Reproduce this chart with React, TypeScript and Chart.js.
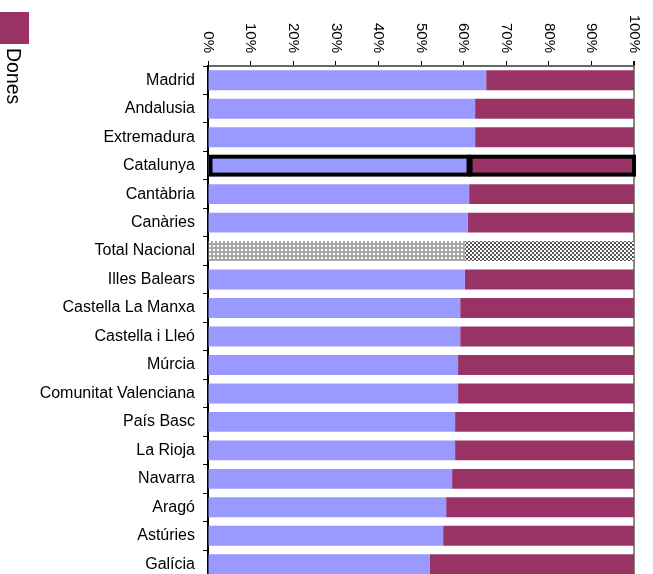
import React, { useEffect, useRef } from 'react';
import { Chart, registerables } from 'chart.js';

Chart.register(...registerables);

const categories = [
  'Madrid', 'Andalusia', 'Extremadura', 'Catalunya', 'Cantàbria', 'Canàries',
  'Total Nacional', 'Illes Balears', 'Castella La Manxa', 'Castella i Lleó',
  'Múrcia', 'Comunitat Valenciana', 'País Basc', 'La Rioja', 'Navarra',
  'Aragó', 'Astúries', 'Galícia',
];
const homes = [65.3, 62.7, 62.7, 61.4, 61.3, 61.0, 60.3, 60.3, 59.2, 59.2, 58.7, 58.7, 58.0, 58.0, 57.3, 55.9, 55.2, 52.1];
const dones = [34.7, 37.3, 37.3, 38.6, 38.7, 39.0, 39.7, 39.7, 40.8, 40.8, 41.3, 41.3, 42.0, 42.0, 42.7, 44.1, 44.8, 47.9];
const seriesNames = ['Homes', 'Dones'];
const tickValues = [0, 10, 20, 30, 40, 50, 60, 70, 80, 90, 100];
const tickLabels = ['0%', '10%', '20%', '30%', '40%', '50%', '60%', '70%', '80%', '90%', '100%'];
const highlighted = 'Catalunya';
const totalRow = 'Total Nacional';

const BLUE = '#9999FF';
const MAROON = '#993366';
const FONT = '"Liberation Sans", Arial, Helvetica, sans-serif';

function makePattern(draw: (g: CanvasRenderingContext2D) => void, size: number) {
  const c = document.createElement('canvas');
  c.width = size;
  c.height = size;
  const g = c.getContext('2d') as CanvasRenderingContext2D;
  draw(g);
  const tmp = document.createElement('canvas').getContext('2d') as CanvasRenderingContext2D;
  return tmp.createPattern(c, 'repeat') as CanvasPattern;
}

export default function App() {
  const ref = useRef<HTMLCanvasElement | null>(null);

  useEffect(() => {
    if (!ref.current) return;
    const dotted = makePattern((g) => {
      g.fillStyle = '#a8a8a8';
      g.fillRect(0, 0, 4, 4);
      g.fillStyle = '#ffffff';
      g.fillRect(1, 1, 2, 2);
    }, 4);
    const checker = makePattern((g) => {
      g.fillStyle = '#ffffff';
      g.fillRect(0, 0, 4, 4);
      g.fillStyle = '#555555';
      g.fillRect(0, 0, 2, 2);
      g.fillRect(2, 2, 2, 2);
    }, 4);

    const hiIdx = categories.indexOf(highlighted);
    const totIdx = categories.indexOf(totalRow);

    const highlight = {
      id: 'highlight',
      afterDatasetsDraw(chart: any) {
        const ctx = chart.ctx as CanvasRenderingContext2D;
        const a = chart.getDatasetMeta(0).data[hiIdx];
        const b = chart.getDatasetMeta(1).data[hiIdx];
        if (!a || !b) return;
        const top = a.y - a.height / 2;
        const bottom = a.y + a.height / 2;
        ctx.save();
        ctx.strokeStyle = '#000';
        ctx.lineWidth = 4;
        ctx.strokeRect(a.base + 2, top + 1, a.x - 1 - (a.base + 2), bottom - top - 2);
        ctx.strokeRect(b.base + 1, top + 1, b.x - (b.base + 1), bottom - top - 2);
        ctx.restore();
      },
    };

    const overlay = {
      id: 'overlay',
      afterDraw(chart: any) {
        const ctx = chart.ctx as CanvasRenderingContext2D;
        const xs = chart.scales.x;
        ctx.save();
        ctx.fillStyle = '#000';
        ctx.font = `15px ${FONT}`;
        ctx.textAlign = 'right';
        ctx.textBaseline = 'middle';
        tickValues.forEach((v, i) => {
          const px = xs.getPixelForValue(v);
          ctx.save();
          ctx.translate(px, 53);
          ctx.rotate(Math.PI / 2);
          ctx.fillText(tickLabels[i], 0, 0);
          ctx.restore();
        });
        // legend (only the visible entry)
        ctx.fillStyle = MAROON;
        ctx.fillRect(0, 12, 29, 32);
        ctx.fillStyle = '#000';
        ctx.font = `19.5px ${FONT}`;
        ctx.textAlign = 'left';
        ctx.textBaseline = 'alphabetic';
        ctx.translate(6.5, 48);
        ctx.rotate(Math.PI / 2);
        ctx.fillText(seriesNames[1], 0, 0);
        ctx.restore();
      },
    };

    const chart = new Chart(ref.current, {
      type: 'bar',
      data: {
        labels: categories,
        datasets: [
          {
            label: seriesNames[0],
            data: homes,
            backgroundColor: (c: any) => (c.dataIndex === totIdx ? dotted : BLUE),
            borderWidth: 0,
            barPercentage: 0.7,
            categoryPercentage: 1,
          },
          {
            label: seriesNames[1],
            data: dones,
            backgroundColor: (c: any) => (c.dataIndex === totIdx ? checker : MAROON),
            borderWidth: 0,
            barPercentage: 0.7,
            categoryPercentage: 1,
          },
        ],
      },
      options: {
        indexAxis: 'y',
        animation: false,
        responsive: false,
        maintainAspectRatio: false,
        layout: { padding: { top: 0, left: 0, right: 19, bottom: 21.5 } },
        plugins: { legend: { display: false }, tooltip: { enabled: false } },
        scales: {
          x: {
            position: 'top',
            stacked: true,
            min: 0,
            max: 100,
            ticks: { display: false, stepSize: 10 },
            grid: {
              drawOnChartArea: true,
              drawTicks: true,
              tickLength: 5,
              tickColor: '#000',
              color: (c: any) => (c.tick && c.tick.value === 100 ? '#888' : 'rgba(0,0,0,0)'),
              lineWidth: (c: any) => (c.tick && c.tick.value === 100 ? 2 : 1),
            },
            border: { color: '#666', width: 2 },
            afterFit: (s: any) => {
              s.height = 66;
            },
          },
          y: {
            stacked: true,
            ticks: { color: '#000', font: { size: 16, family: FONT }, padding: 8, autoSkip: false },
            grid: { drawOnChartArea: false, offset: true, tickLength: 5, tickColor: '#000' },
            border: { color: '#000', width: 2 },
            afterFit: (s: any) => {
              s.width = 208;
            },
          },
        },
      },
      plugins: [highlight, overlay],
    } as any);

    return () => chart.destroy();
  }, []);

  return (
    <div style={{ position: 'fixed', left: 0, top: 0, width: 653, height: 574, overflow: 'hidden', background: '#fff' }}>
      <canvas ref={ref} width={653} height={600} style={{ display: 'block' }} />
    </div>
  );
}
